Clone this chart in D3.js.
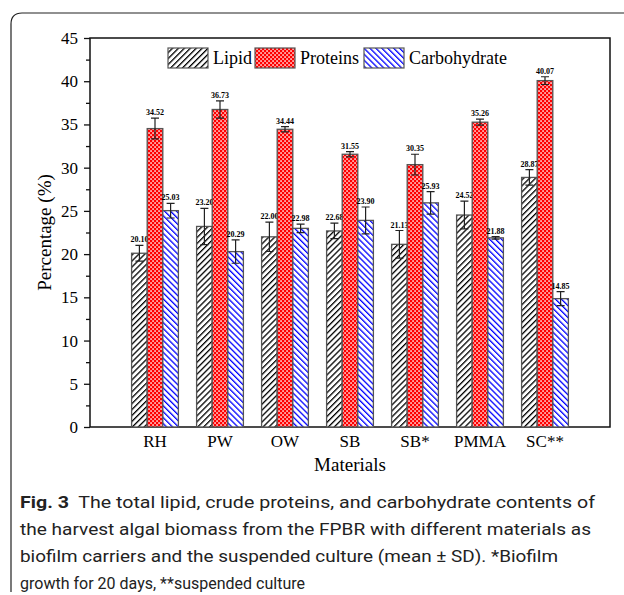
<!DOCTYPE html>
<html>
<head>
<meta charset="utf-8">
<script src="https://cdn.jsdelivr.net/npm/d3@7"></script>
<style>
  body { margin: 0; background: #fff; }
  svg { display: block; }
</style>
</head>
<body>
<div id="chart"></div>
<script>
// materials on the x axis
const materials = ["RH", "PW", "OW", "SB", "SB*", "PMMA", "SC**"];
const seriesNames = ["Lipid", "Proteins", "Carbohydrate"];

// mean values (%)
const lipid = [20.10, 23.20, 22.00, 22.68, 21.13, 24.52, 28.87];
const proteins = [34.52, 36.73, 34.44, 31.55, 30.35, 35.26, 40.07];
const carbohydrate = [25.03, 20.29, 22.98, 23.90, 25.93, 21.88, 14.85];

// standard deviations
const lipidSD = [0.9, 2.1, 1.7, 0.9, 1.6, 1.6, 0.9];
const proteinsSD = [1.2, 1.0, 0.3, 0.3, 1.2, 0.35, 0.45];
const carbohydrateSD = [0.85, 1.35, 0.5, 1.55, 1.3, 0.15, 0.8];

const yTicks = [0, 5, 10, 15, 20, 25, 30, 35, 40, 45];

const W = 624, H = 595;
const svg = d3.select("#chart").append("svg")
    .attr("width", W)
    .attr("height", H);

// patterns for the three series
const defs = svg.append("defs");

let p1 = defs.append("pattern").attr("id", "patLipid")
    .attr("patternUnits", "userSpaceOnUse").attr("width", 4.2).attr("height", 4.2)
    .attr("patternTransform", "rotate(45)");
p1.append("rect").attr("width", 4.2).attr("height", 4.2).attr("fill", "#fff");
p1.append("rect").attr("x", 0).attr("width", 1.3).attr("height", 4.2).attr("fill", "#000");

let p2 = defs.append("pattern").attr("id", "patProt")
    .attr("patternUnits", "userSpaceOnUse").attr("width", 4).attr("height", 4);
p2.append("rect").attr("width", 4).attr("height", 4).attr("fill", "#f00");
p2.append("rect").attr("x", 0.3).attr("y", 0.3).attr("width", 1.5).attr("height", 1.5).attr("fill", "#fff");
p2.append("rect").attr("x", 2.3).attr("y", 2.3).attr("width", 1.5).attr("height", 1.5).attr("fill", "#fff");

let p3 = defs.append("pattern").attr("id", "patCarb")
    .attr("patternUnits", "userSpaceOnUse").attr("width", 4.2).attr("height", 4.2)
    .attr("patternTransform", "rotate(-45)");
p3.append("rect").attr("width", 4.2).attr("height", 4.2).attr("fill", "#fff");
p3.append("rect").attr("x", 0).attr("width", 1.3).attr("height", 4.2).attr("fill", "#00f");

const fills = ["url(#patLipid)", "url(#patProt)", "url(#patCarb)"];

// outer frame (left + top with rounded corner)
svg.append("path")
    .attr("d", "M11,592 L11,24 Q11,13 22,13 L624,13")
    .attr("fill", "none").attr("stroke", "#222").attr("stroke-width", 1.2);

const margin = {left: 90, right: 14, top: 38, bottom: 168};
const x = d3.scaleLinear().domain([0, materials.length + 1]).range([margin.left, W - margin.right]);
const y = d3.scaleLinear().domain([0, 45]).range([H - margin.bottom, margin.top]);
const barW = x(0.24) - x(0);

const serif = "'Liberation Serif', 'Times New Roman', serif";

// plot box
svg.append("rect")
    .attr("x", x(0)).attr("y", y(45))
    .attr("width", x(8) - x(0)).attr("height", y(0) - y(45))
    .attr("fill", "none").attr("stroke", "#111").attr("stroke-width", 1.5);

// y axis with minor ticks
let yAxis = svg.append("g")
    .attr("transform", `translate(${x(0)},0)`)
    .call(d3.axisLeft(y).tickValues(yTicks).tickSize(6).tickPadding(6));
yAxis.select(".domain").remove();
yAxis.selectAll("text").style("font-family", serif).style("font-size", "17px").attr("fill", "#000");
yAxis.selectAll("line").attr("stroke", "#111").attr("stroke-width", 1.3);

let yMinor = svg.append("g")
    .attr("transform", `translate(${x(0)},0)`)
    .call(d3.axisLeft(y).tickValues(d3.range(2.5, 45, 5)).tickSize(4).tickFormat(""));
yMinor.select(".domain").remove();
yMinor.selectAll("line").attr("stroke", "#111").attr("stroke-width", 1.3);

// x labels
svg.append("g").selectAll("text").data(materials).join("text")
    .attr("x", (d, i) => x(i + 1))
    .attr("y", y(0) + 20)
    .attr("text-anchor", "middle")
    .attr("fill", "#000")
    .style("font-family", serif).style("font-size", "17px")
    .text(d => d);

// axis titles
svg.append("text")
    .attr("x", x(4)).attr("y", y(0) + 44)
    .attr("text-anchor", "middle")
    .attr("fill", "#000")
    .style("font-family", serif).style("font-size", "19px")
    .text("Materials");

svg.append("text")
    .attr("transform", `translate(51,${(y(0) + y(45)) / 2}) rotate(-90)`)
    .attr("text-anchor", "middle")
    .attr("fill", "#000")
    .style("font-family", serif).style("font-size", "19px")
    .text("Percentage (%)");

// bars
const series = [lipid, proteins, carbohydrate];
const sds = [lipidSD, proteinsSD, carbohydrateSD];

series.forEach((vals, s) => {
    let rows = vals.map((v, i) => ({v: v, sd: sds[s][i], i: i}));
    let g = svg.append("g");
    let cx = d => x(d.i + 1) + (s - 1) * barW;

    g.selectAll("rect").data(rows).join("rect")
        .attr("x", d => cx(d) - barW / 2)
        .attr("y", d => y(d.v))
        .attr("width", barW)
        .attr("height", d => y(0) - y(d.v))
        .attr("fill", fills[s])
        .attr("stroke", "#555").attr("stroke-width", 1.3);

    // error bars
    g.selectAll("path.err").data(rows).join("path")
        .attr("class", "err")
        .attr("d", d => {
            let c = cx(d), t = y(d.v + d.sd), b = y(d.v - d.sd);
            return `M${c - 4},${t}H${c + 4}M${c},${t}V${b}M${c - 4},${b}H${c + 4}`;
        })
        .attr("fill", "none").attr("stroke", "#222").attr("stroke-width", 1.2);

    // value labels
    g.selectAll("text").data(rows).join("text")
        .attr("x", d => cx(d))
        .attr("y", d => y(d.v + d.sd) - 3)
        .attr("text-anchor", "middle")
        .attr("fill", "#000")
        .style("font-family", serif).style("font-size", "8px").style("font-weight", "bold")
        .text(d => d.v.toFixed(2));
});

// legend
const legX = [168, 255, 364];
const legG = svg.append("g");
seriesNames.forEach((n, i) => {
    legG.append("rect")
        .attr("x", legX[i]).attr("y", 48)
        .attr("width", 40).attr("height", 20)
        .attr("fill", fills[i]).attr("stroke", "#555").attr("stroke-width", 1.2);
    legG.append("text")
        .attr("x", legX[i] + 45).attr("y", 64)
        .attr("fill", "#000")
        .style("font-family", serif).style("font-size", "18px")
        .text(n);
});

// caption, each line fitted to the width it has in the figure
const sans = "Roboto, 'Noto Sans', sans-serif";
const capLines = [
    {len: 575, parts: [["Fig. 3", true], ["  The total lipid, crude proteins, and carbohydrate contents of", false]]},
    {len: 571, parts: [["the harvest algal biomass from the FPBR with different materials as", false]]},
    {len: 538, parts: [["biofilm carriers and the suspended culture (mean \u00b1 SD). *Biofilm", false]]},
    {len: 285, parts: [["growth for 20 days, **suspended culture", false]]}
];
capLines.forEach((l, k) => {
    let t = svg.append("text")
        .attr("x", 20).attr("y", 508 + k * 27)
        .attr("textLength", l.len).attr("lengthAdjust", "spacingAndGlyphs")
        .style("font-family", sans).style("font-size", "17px").attr("fill", "#222")
        .attr("xml:space", "preserve");
    l.parts.forEach(p => {
        t.append("tspan").style("font-weight", p[1] ? "bold" : "normal").text(p[0]);
    });
});
</script>
</body>
</html>
